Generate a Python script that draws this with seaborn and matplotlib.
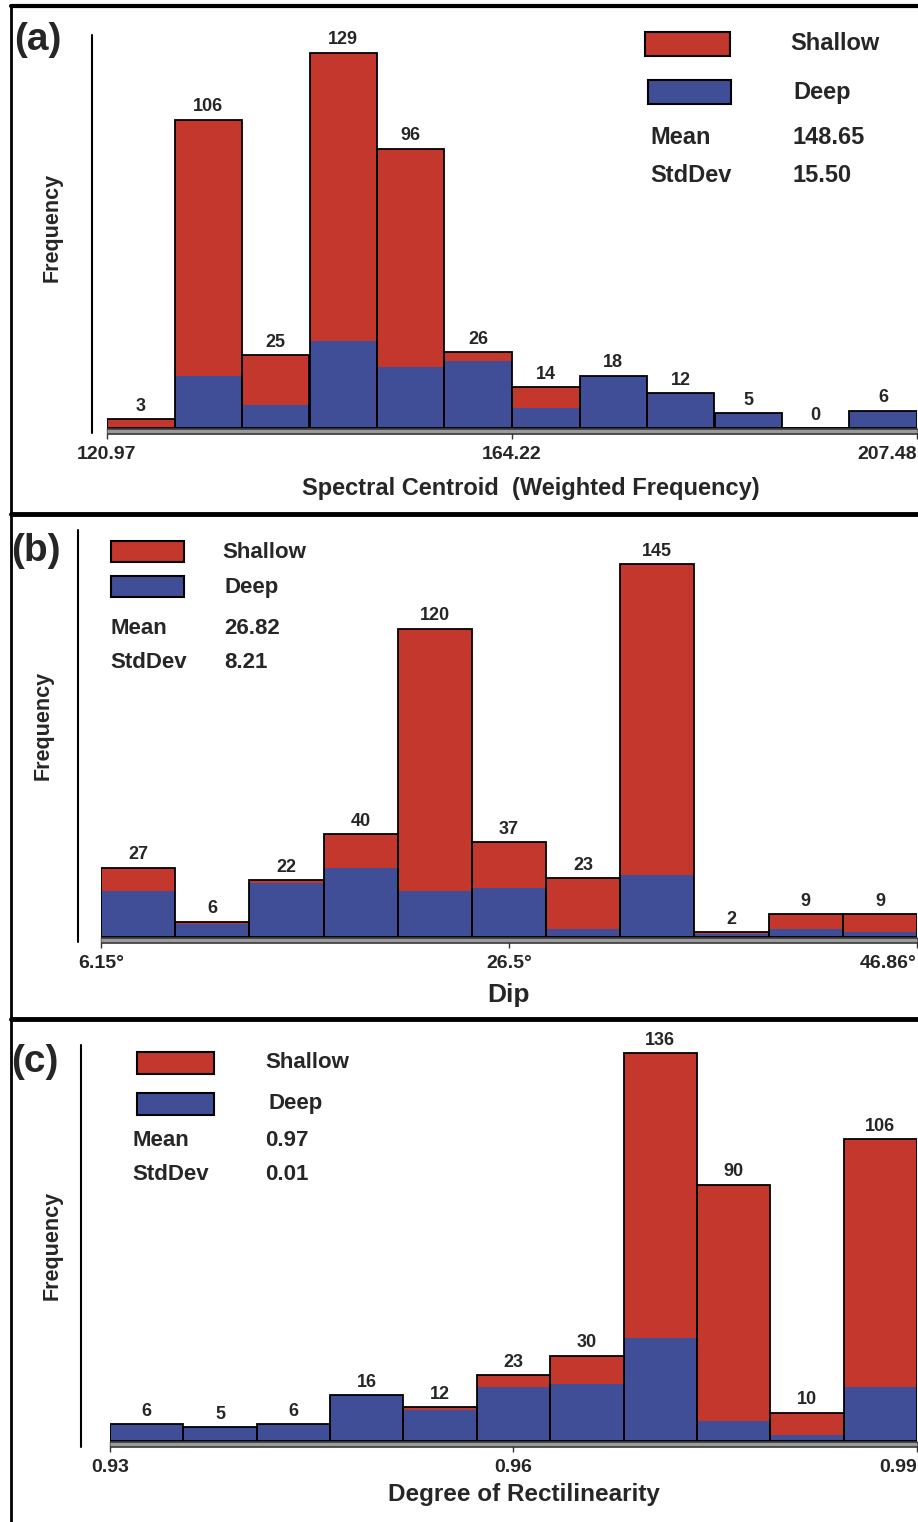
import numpy as np
import pandas as pd
import matplotlib
matplotlib.use('Agg')
import matplotlib.pyplot as plt
import seaborn as sns
from matplotlib.patches import Rectangle
from matplotlib.lines import Line2D

# (a) Spectral centroid
a_range = (120.97, 207.48)
a_shallow = [3, 88, 17, 99, 75, 3, 7, 0, 0, 0, 0, 0]
a_deep = [0, 18, 8, 30, 21, 23, 7, 18, 12, 5, 0, 6]
a_ticks = [120.97, 164.22, 207.48]
a_ticklabels = ['120.97', '164.22', '207.48']
a_stats = ['148.65', '15.50']

# (b) Dip
b_range = (6.15, 46.86)
b_shallow = [9, 1, 1, 13, 102, 18, 20, 121, 1, 6, 7]
b_deep = [18, 5, 21, 27, 18, 19, 3, 24, 1, 3, 2]
b_ticks = [6.15, 26.5, 46.86]
b_ticklabels = ['6.15°', '26.5°', '46.86°']
b_stats = ['26.82', '8.21']

# (c) Degree of rectilinearity
c_range = (0.93, 0.99)
c_shallow = [0, 0, 0, 0, 1, 4, 10, 100, 83, 8, 87]
c_deep = [6, 5, 6, 16, 11, 19, 20, 36, 7, 2, 19]
c_ticks = [0.93, 0.96, 0.99]
c_ticklabels = ['0.93', '0.96', '0.99']
c_stats = ['0.97', '0.01']

RED = '#c4372d'
BLUE = '#3f4e96'
W, H = 918, 1522

sns.set_style('white')
plt.rcParams['font.family'] = ['Liberation Sans', 'DejaVu Sans']
plt.rcParams['font.weight'] = 'bold'

fig = plt.figure(figsize=(W / 100, H / 100), dpi=100)


def fx(x):
    return x / W


def fy(y):
    return 1 - y / H


def rect_px(x0, y0, x1, y1, **kw):
    fig.add_artist(Rectangle((fx(x0), fy(y1)), fx(x1) - fx(x0), fy(y0) - fy(y1),
                             transform=fig.transFigure, **kw))


def line_px(xs, ys, **kw):
    fig.add_artist(Line2D([fx(x) for x in xs], [fy(y) for y in ys],
                          transform=fig.transFigure, **kw))


def panel(rng, shallow, deep, ticks, ticklabels, x0, x1, base, top, scale):
    ax = fig.add_axes([fx(x0), fy(base), fx(x1) - fx(x0), (base - top) / H])
    n = len(deep)
    edges = list(np.linspace(rng[0], rng[1], n + 1))
    centers = [(edges[i] + edges[i + 1]) / 2 for i in range(n)]
    totals = [s + d for s, d in zip(shallow, deep)]
    df = pd.DataFrame({
        'x': centers + centers,
        'n': shallow + deep,
        'layer': ['Shallow'] * n + ['Deep'] * n,
    })
    sns.histplot(data=df, x='x', weights='n', hue='layer', hue_order=['Shallow', 'Deep'],
                 multiple='stack', bins=edges, palette={'Shallow': RED, 'Deep': BLUE},
                 alpha=1, linewidth=0, legend=False, ax=ax)
    tot = pd.DataFrame({'x': centers, 'n': totals})
    sns.histplot(data=tot, x='x', weights='n', bins=edges, fill=False, color='black',
                 linewidth=1.3, ax=ax)
    for cx, t in zip(centers, totals):
        ax.annotate(str(t), (cx, t), xytext=(0, 3), textcoords='offset points',
                    ha='center', va='bottom', fontsize=13, fontweight='bold',
                    annotation_clip=False)
    ax.set_xlim(rng)
    ax.set_ylim(0, (base - top) / scale)
    # baseline strip under the bars
    off = 3 / scale
    ax.axhline(-off, color='#333333', lw=5.5, clip_on=False, zorder=0.5,
               solid_capstyle='butt')
    ax.axhline(-off, color='#9a9a9a', lw=2.5, clip_on=False, zorder=0.6,
               solid_capstyle='butt')
    sns.despine(ax=ax, left=True, bottom=True, right=True, top=True)
    ax.set_yticks([])
    ax.set_xticks(ticks)
    ax.set_xticklabels(ticklabels, fontsize=14, fontweight='bold')
    ax.tick_params(axis='x', bottom=True, length=8, width=1, pad=5, color='#333333')
    ax.get_xticklabels()[-1].set_ha('right')
    ax.set_xlabel('')
    ax.set_ylabel('')
    ax.set_facecolor('none')
    return ax


def legend(red_box, blue_box, text_x, stat_x, val_x, rows_y, stats, fs):
    rect_px(*red_box, facecolor=RED, edgecolor='black', lw=1.5)
    rect_px(*blue_box, facecolor=BLUE, edgecolor='black', lw=1.5)
    fig.text(fx(text_x), fy(rows_y[0]), 'Shallow', fontsize=fs, fontweight='bold', va='center')
    fig.text(fx(text_x + 3), fy(rows_y[1]), 'Deep', fontsize=fs, fontweight='bold', va='center')
    fig.text(fx(stat_x), fy(rows_y[2]), 'Mean', fontsize=fs, fontweight='bold', va='center')
    fig.text(fx(val_x), fy(rows_y[2]), stats[0], fontsize=fs, fontweight='bold', va='center')
    fig.text(fx(stat_x), fy(rows_y[3]), 'StdDev', fontsize=fs, fontweight='bold', va='center')
    fig.text(fx(val_x), fy(rows_y[3]), stats[1], fontsize=fs, fontweight='bold', va='center')


# panel (a)
ax_a = panel(a_range, a_shallow, a_deep, a_ticks, a_ticklabels, 107, 917, 428, 20, 2.91)
line_px([92, 92], [35, 433], color='black', lw=1.5)
fig.text(fx(14), fy(40), '(a)', fontsize=28, fontweight='bold', va='center')
fig.text(fx(52), fy(227), 'Frequency', fontsize=15.5, fontweight='bold', rotation=90,
         ha='center', va='center')
fig.text(fx(531), fy(488), 'Spectral Centroid  (Weighted Frequency)', fontsize=17,
         fontweight='bold', ha='center', va='center')
legend((645, 32, 730, 56), (648, 80, 731, 104), 790, 650, 793, [44, 92, 137, 175],
       a_stats, 17)

# panel (b)
ax_b = panel(b_range, b_shallow, b_deep, b_ticks, b_ticklabels, 101, 917, 937, 530, 2.57)
line_px([78, 78], [530, 942], color='black', lw=1.5)
fig.text(fx(11), fy(551), '(b)', fontsize=28, fontweight='bold', va='center')
fig.text(fx(43), fy(725), 'Frequency', fontsize=15.5, fontweight='bold', rotation=90,
         ha='center', va='center')
fig.text(fx(509), fy(995), 'Dip', fontsize=19, fontweight='bold', ha='center', va='center')
legend((111, 541, 184, 562), (111, 576, 184, 597), 222, 110, 224, [552, 587, 628, 662],
       b_stats, 16)

# panel (c)
ax_c = panel(c_range, c_shallow, c_deep, c_ticks, c_ticklabels, 110, 917, 1441, 1040, 2.85)
line_px([81, 81], [1045, 1447], color='black', lw=1.5)
fig.text(fx(11), fy(1062), '(c)', fontsize=28, fontweight='bold', va='center')
fig.text(fx(52), fy(1245), 'Frequency', fontsize=15.5, fontweight='bold', rotation=90,
         ha='center', va='center')
fig.text(fx(524), fy(1494), 'Degree of Rectilinearity', fontsize=17.5, fontweight='bold',
         ha='center', va='center')
legend((137, 1052, 214, 1074), (137, 1093, 214, 1115), 265, 132, 265,
       [1063, 1104, 1141, 1174], c_stats, 16)

# panel frames
line_px([11, 11], [5, H], color='black', lw=2)
line_px([11, W], [6, 6], color='black', lw=3)
line_px([11, W], [514, 514], color='black', lw=3.5)
line_px([11, W], [1019, 1019], color='black', lw=3.5)

plt.savefig('out.png', dpi=100)
